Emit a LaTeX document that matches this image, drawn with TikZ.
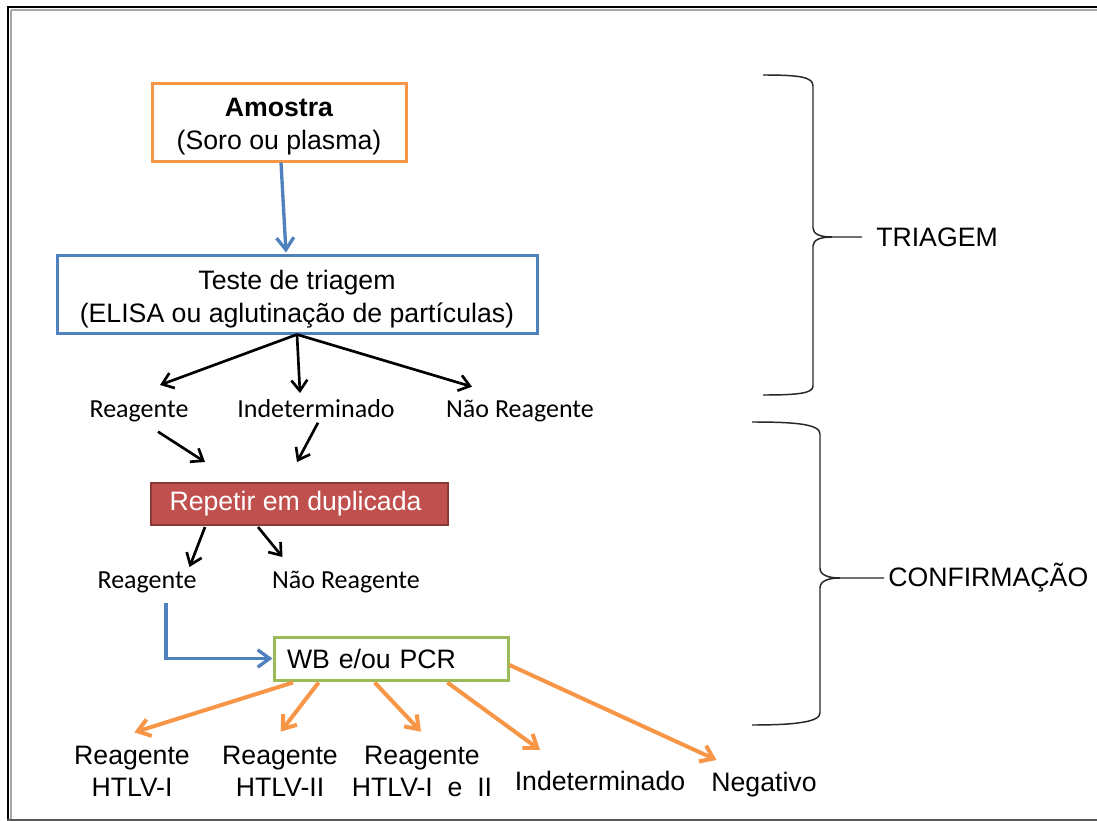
\documentclass[tikz,border=0pt]{standalone}
\usepackage{fontspec}
\setmainfont{Liberation Sans}
\newfontfamily\calib{Carlito}
\usetikzlibrary{arrows.meta,calc}
\definecolor{oOrange}{HTML}{F79646}
\definecolor{oBlue}{HTML}{4F81BD}
\definecolor{oGreen}{HTML}{9BBB59}
\definecolor{oRed}{HTML}{C0504D}
\definecolor{oRedDark}{HTML}{8C3A38}
\begin{document}
\begin{tikzpicture}[x=0.75pt,y=-0.75pt,
  every node/.style={font=\fontsize{20}{24.75}\selectfont},
  box/.style={draw, line width=2.25pt, inner sep=0pt, align=center},
  lab/.style={font=\calib\fontsize{19.5}{24}\selectfont, inner sep=0pt, anchor=base},
  blab/.style={inner sep=0pt, align=center, font=\fontsize{20}{24}\selectfont},
  blk/.style={draw=black, line width=2pt, -{Straight Barb[length=8pt,width=12pt]}},
  org/.style={draw=oOrange, line width=3pt, -{Straight Barb[length=9pt,width=13pt]}},
  blu/.style={draw=oBlue, line width=2.5pt, -{Straight Barb[length=9pt,width=13pt]}},
  brace/.style={draw=black!85, line width=1.1pt},
]
\useasboundingbox (0,0) rectangle (1097,821);
% frame
\draw[line width=1.5pt] (6.5,7) -- (1097,7);
\draw[line width=1.5pt] (7.5,6.25) -- (7.5,821);
\draw[gray!70, line width=0.9pt] (11,10) -- (1097,10);
\draw[gray!70, line width=0.9pt] (11,10) -- (11,821);
\draw[black!65, line width=1.5pt] (7,819.5) -- (1097,819.5);

% boxes
\node[box, draw=oOrange, minimum width={254*0.75pt}, minimum height={78*0.75pt}] (amostra) at (279,122)
  {\rule{0pt}{20.5pt}\textbf{Amostra}\\(Soro ou plasma)};
\node[box, draw=oBlue, minimum width={480*0.75pt}, minimum height={78*0.75pt}] (teste) at (297,294)
  {\rule{0pt}{22pt}Teste de triagem\\(ELISA ou aglutinação de partículas)};
\node[box, draw=oRedDark, fill=oRed, text=white, line width=1.5pt, minimum width={297*0.75pt}, minimum height={42*0.75pt}] (repetir) at (299.5,504)
  {Repetir em duplicada\hspace{6pt}};
\node[box, draw=oGreen, text width={(234-26)*0.75pt}, inner xsep={13*0.75pt}, align=left, minimum height={43*0.75pt}] (wb) at (391,658.5)
  {WB e/ou PCR};

% labels
\node[lab] (r1) at (139,417.7) {Reagente};
\node[lab] (ind1) at (316,417.7) {Indeterminado};
\node[lab] (nr1) at (520,417.7) {Não Reagente};
\node[lab] (r2) at (147,588) {Reagente};
\node[lab] (nr2) at (346,588) {Não Reagente};
\node[blab] (h1) at (132,771) {Reagente\\HTLV-I};
\node[blab] (h2) at (280,771) {Reagente\\HTLV-II};
\node[blab] (h12) at (422,771) {Reagente\\HTLV-I~ e~ II};
\node[blab, anchor=base] (ind2) at (600,790) {Indeterminado};
\node[blab, anchor=base] (neg) at (764,791.5) {Negativo};
\node[blab, anchor=west] (triagem) at (876,237) {TRIAGEM};
\node[blab, anchor=west] (conf) at (888,578) {CONFIRMAÇÃO};

% connectors
\draw[blu] ($(amostra.south)+(2,0)$) -- ($(teste.north)+(-11,-1)$);
\draw[blk] (teste.south) -- ($(r1.base)+(21,-32.7)$);
\draw[blk] (teste.south) -- ($(ind1.base)+(-16,-24.7)$);
\draw[blk] (teste.south) -- ($(nr1.base)+(-48,-31)$);
\draw[blk] ($(r1.base)+(19,14)$) -- ($(repetir.north)+(-94.5,-20)$);
\draw[blk] ($(ind1.base)+(2,5)$) -- ($(repetir.north)+(-2.5,-20)$);
\draw[blk] ($(repetir.south)+(-94.5,1)$) -- ($(r2.base)+(42.5,-21)$);
\draw[blk] ($(repetir.south)+(-41.5,1)$) -- ($(nr2.base)+(-63.5,-31)$);
\draw[blu] ($(r2.base)+(19,15)$) |- (wb.west);
\draw[org] ($(wb.south)+(-98,1)$) -- ($(h1)+(2.4,-38.7)$);
\draw[org] ($(wb.south)+(-72.4,1)$) -- ($(h2)+(0.7,-39.3)$);
\draw[org] ($(wb.south)+(-16.3,1)$) -- ($(h12)+(-1,-39.3)$);
\draw[org] ($(wb.south)+(56.4,1)$) -- ($(ind2.base)+(-60,-40)$);
\draw[org] ($(wb.east)+(0,6.5)$) -- ($(neg.base)+(-47.5,-31.5)$);

% braces
\draw[brace] (763,75) .. controls (800,75) and (813,77) .. (813,86) -- (813,228)
  .. controls (813,234) and (820,237) .. (832,237) -- (862,237);
\draw[brace] (832,237) .. controls (820,237) and (813,240) .. (813,246) -- (813,386)
  .. controls (813,393) and (800,395) .. (763,395);
\draw[brace] (752,422) .. controls (795,422) and (820,424) .. (820,434) -- (820,568)
  .. controls (820,575) and (828,578) .. (840,578) -- (884,578);
\draw[brace] (840,578) .. controls (828,578) and (820,581) .. (820,588) -- (820,713)
  .. controls (820,722) and (795,725) .. (752,725);
\end{tikzpicture}
\end{document}
